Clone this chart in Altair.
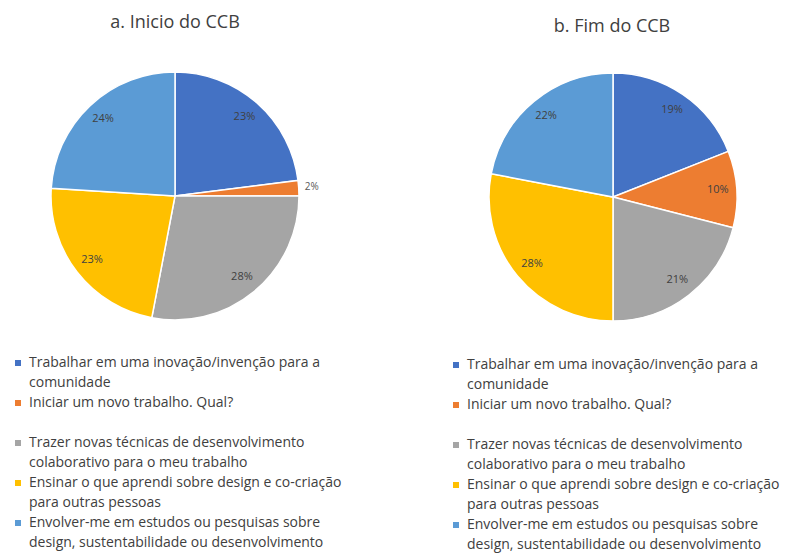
import altair as alt
import pandas as pd

# Answer options (same order in both pies)
categories = [
    "Trabalhar em uma inovação/invenção para a comunidade",
    "Iniciar um novo trabalho. Qual?",
    "Trazer novas técnicas de desenvolvimento colaborativo para o meu trabalho",
    "Ensinar o que aprendi sobre design e co-criação para outras pessoas",
    "Envolver-me em estudos ou pesquisas sobre design, sustentabilidade ou desenvolvimento",
]
# Legend text, two lines per entry
legend_lines = [
    ["Trabalhar em uma inovação/invenção para a", "comunidade"],
    ["Iniciar um novo trabalho. Qual?", ""],
    ["Trazer novas técnicas de desenvolvimento", "colaborativo para o meu trabalho"],
    ["Ensinar o que aprendi sobre design e co-criação", "para outras pessoas"],
    ["Envolver-me em estudos ou pesquisas sobre", "design, sustentabilidade ou desenvolvimento"],
]
inicio_pct = [23, 2, 28, 23, 24]
fim_pct = [19, 10, 21, 28, 22]
titles = ["a. Inicio do CCB", "b. Fim do CCB"]
colors = ["#4472C4", "#ED7D31", "#A5A5A5", "#FFC000", "#5B9BD5"]

FONT = "Open Sans"
TEXT = "#404040"
color_scale = alt.Scale(domain=categories, range=colors)


def pie(values, cx, cy):
    df = pd.DataFrame({"cat": categories, "ord": list(range(len(categories))), "pct": values})
    base = alt.Chart(df).encode(
        theta=alt.Theta("pct:Q", stack=True),
        order=alt.Order("ord:Q"),
        x=alt.value(cx),
        y=alt.value(cy),
    )
    arcs = base.mark_arc(outerRadius=124, stroke="white", strokeWidth=1.5).encode(
        color=alt.Color("cat:N", scale=color_scale, legend=None)
    )
    # labels inside the slices; very thin slices get their label just outside
    inner = base.mark_text(font=FONT, fontSize=11, color=TEXT, radius=105).transform_calculate(
        txt="datum.pct >= 5 ? datum.pct + '%' : ''"
    ).encode(text="txt:N")
    outer = base.mark_text(font=FONT, fontSize=10, color="#595959", radius=137).transform_calculate(
        txt="datum.pct < 5 ? datum.pct + '%' : ''"
    ).encode(text="txt:N")
    return arcs + inner + outer


def legend(x0, dy):
    rows = []
    for i, (cat, lines) in enumerate(zip(categories, legend_lines)):
        for j, line in enumerate(lines):
            rows.append({"cat": cat, "line": 2 * i + j, "text": line, "first": j == 0})
    df = pd.DataFrame(rows)
    y = alt.Y("line:Q", scale=alt.Scale(domain=[0, 9], range=[363, 543]), axis=None)
    squares = alt.Chart(df).transform_filter("datum.first").mark_square(size=36, opacity=1, yOffset=dy).encode(
        x=alt.value(x0), y=y, color=alt.Color("cat:N", scale=color_scale, legend=None)
    )
    texts = alt.Chart(df).mark_text(
        font=FONT, fontSize=14, color=TEXT, align="left", baseline="middle", dy=dy
    ).encode(x=alt.value(x0 + 11), y=y, text="text:N")
    return squares + texts


def title(t, cx, cy):
    return alt.Chart(pd.DataFrame({"t": [t]})).mark_text(
        font=FONT, fontSize=18, color="#404040"
    ).encode(text="t:N", x=alt.value(cx), y=alt.value(cy))


chart = alt.layer(
    title(titles[0], 175, 23),
    title(titles[1], 612, 27),
    pie(inicio_pct, 175, 196),
    pie(fim_pct, 613, 197),
    legend(18, 0),
    legend(456, 2),
).properties(
    width=791,
    height=554,
    autosize=alt.AutoSizeParams(type="none"),
    padding=0,
).configure_view(stroke=None)

chart.save("out.html", embed_options={"renderer": "svg", "actions": False})
